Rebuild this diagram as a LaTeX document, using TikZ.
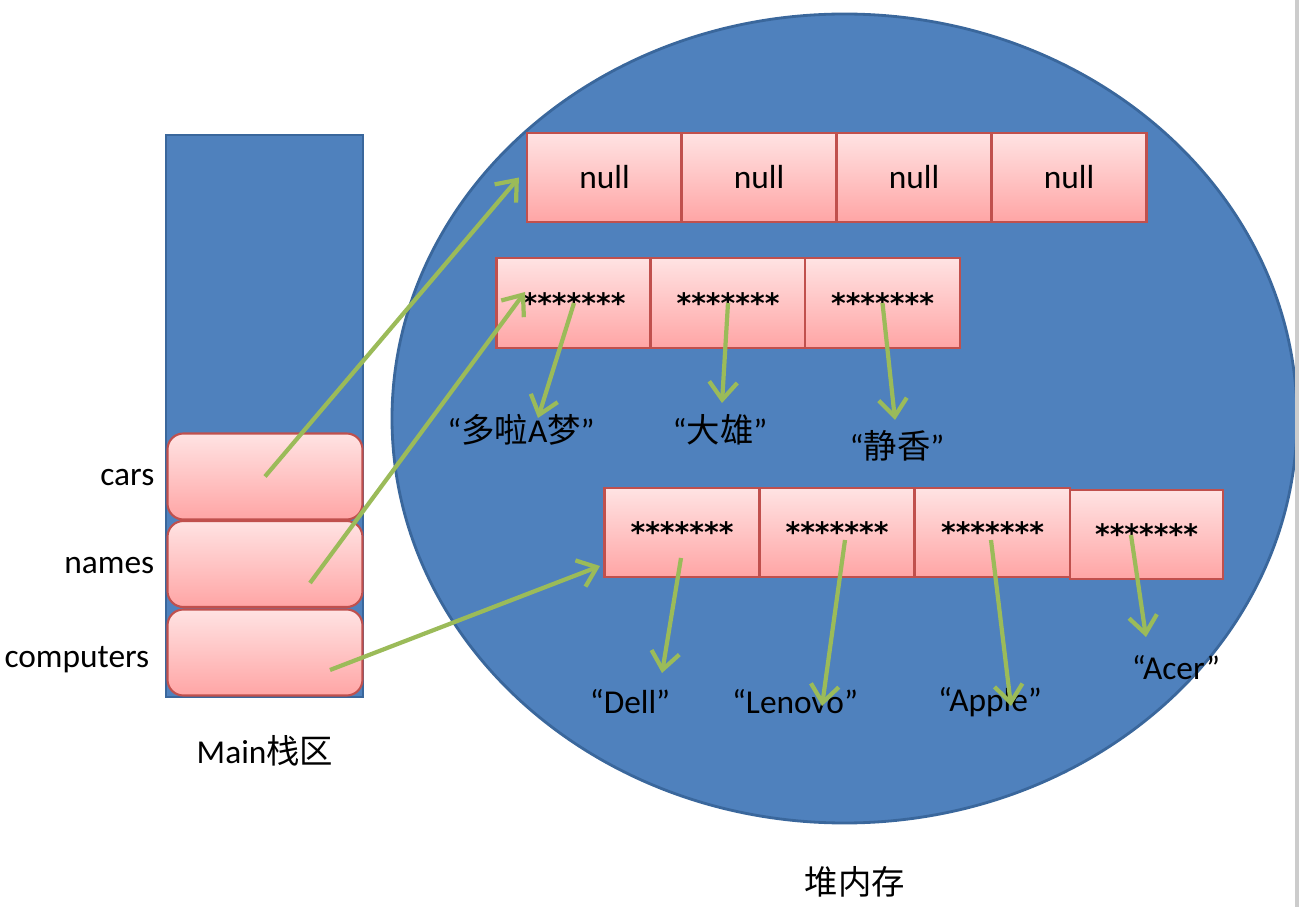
\documentclass[tikz,border=0pt]{standalone}
\usepackage{fontspec}
\usepackage{tikz}
\usetikzlibrary{arrows.meta}
\setmainfont{Carlito}
\newfontfamily\cjk{Noto Sans CJK SC}
\newfontfamily\starfont{DejaVu Sans}
\definecolor{heapblue}{HTML}{4F81BD}
\definecolor{heapline}{HTML}{3A679C}
\definecolor{celltop}{HTML}{FFE3E3}
\definecolor{cellbottom}{HTML}{FFA5A5}
\definecolor{cellline}{HTML}{C0504D}
\definecolor{refgreen}{HTML}{9BBB59}
\newcommand{\hidden}{{\starfont\bfseries\fontsize{8}{9}\selectfont *******}}
\tikzset{
	cell/.style={draw=cellline, line width=0.6pt, top color=celltop, bottom color=cellbottom, minimum width=1.55cm, minimum height=0.89cm, inner sep=0pt, font=\fontsize{9.5}{11}\selectfont},
	slot/.style={cell, rounded corners=4.5pt, minimum width=1.95cm, minimum height=0.86cm},
	ref/.style={draw=refgreen, line width=1.2pt, -{Straight Barb[length=5pt,width=8pt]}},
	lbl/.style={inner sep=0pt, font=\fontsize{9.5}{11}\selectfont}
}

\begin{document}
\begin{tikzpicture}
	\useasboundingbox (0,0) rectangle (12.99,-9.07);
	\draw[heapline, fill=heapblue, line width=0.8pt] (8.445,-4.185) ellipse (4.525 and 4.045);
	\draw[gray!40, line width=1pt] (12.97,0) -- (12.97,-9.07);

	\node[draw=heapline, fill=heapblue, minimum width=1.97cm, minimum height=5.62cm, inner sep=0pt] (stack) at (2.645,-4.16) {};
	\node[slot] (cars) at (2.65,-4.765) {};
	\node[slot] (names) at (2.65,-5.64) {};
	\node[slot] (computers) at (2.65,-6.525) {};
	\node[lbl, anchor=east] (carsname) at (1.55,-4.78) {cars};
	\node[lbl, anchor=east] (namesname) at (1.55,-5.66) {names};
	\node[lbl, anchor=east] (compname) at (1.5,-6.6) {computers};
	\node[lbl] (mainname) at (2.65,-7.51) {Main{\cjk 栈区}};
	\node[lbl] (heapname) at (8.55,-8.82) {{\cjk 堆内存}};

	\node[cell] (n1) at (6.045,-1.775) {null};
	\node[cell] (n2) at (7.59,-1.775) {null};
	\node[cell] (n3) at (9.14,-1.775) {null};
	\node[cell] (n4) at (10.69,-1.775) {null};

	\node[cell, minimum height=0.9cm] (s1) at (5.74,-3.03) {\hidden};
	\node[cell, minimum height=0.9cm] (s2) at (7.28,-3.03) {\hidden};
	\node[cell, minimum height=0.9cm] (s3) at (8.825,-3.03) {\hidden};

	\node[cell] (c1) at (6.82,-5.325) {\hidden};
	\node[cell] (c2) at (8.37,-5.325) {\hidden};
	\node[cell] (c3) at (9.925,-5.325) {\hidden};
	\node[cell, minimum width=1.53cm] (c4) at (11.465,-5.345) {\hidden};

	\node[lbl] (dora) at (5.21,-4.30) {“{\cjk 多啦}A{\cjk 梦}”};
	\node[lbl] (nobita) at (7.2,-4.30) {“{\cjk 大雄}”};
	\node[lbl] (shizuka) at (8.97,-4.46) {“{\cjk 静香}”};
	\node[lbl] (dell) at (6.3,-7.02) {“Dell”};
	\node[lbl] (lenovo) at (7.95,-7.02) {“Lenovo”};
	\node[lbl] (apple) at (9.9,-7.02) {“Apple”};
	\node[lbl] (acer) at (11.76,-6.68) {“Acer”};

	\coordinate (namesstart) at (3.1,-5.83);
	\coordinate (compstart) at (3.3,-6.7);
	\coordinate (namesend) at (5.25,-2.92);
	\coordinate (compend) at (6.0,-5.66);
	\coordinate (doraend) at (5.38,-4.18);
	\coordinate (nobitaend) at (7.22,-4.03);
	\coordinate (shizukaend) at (8.95,-4.2);
	\coordinate (dellstart) at (6.81,-5.58);
	\coordinate (lenovostart) at (8.45,-5.4);
	\coordinate (applestart) at (9.91,-5.4);
	\coordinate (acerstart) at (11.31,-5.35);
	\coordinate (dellend) at (6.62,-6.73);
	\coordinate (lenovoend) at (8.22,-7.06);
	\coordinate (appleend) at (10.11,-7.06);
	\coordinate (acerend) at (11.46,-6.37);

	\draw[ref] (cars.center) -- ([xshift=-2pt]n1.west);
	\draw[ref] (namesstart) -- (namesend);
	\draw[ref] (compstart) -- (compend);
	\draw[ref] (s1.center) -- (doraend);
	\draw[ref] (s2.center) -- (nobitaend);
	\draw[ref] (s3.center) -- (shizukaend);
	\draw[ref] (dellstart) -- (dellend);
	\draw[ref] (lenovostart) -- (lenovoend);
	\draw[ref] (applestart) -- (appleend);
	\draw[ref] (acerstart) -- (acerend);
\end{tikzpicture}
\end{document}
